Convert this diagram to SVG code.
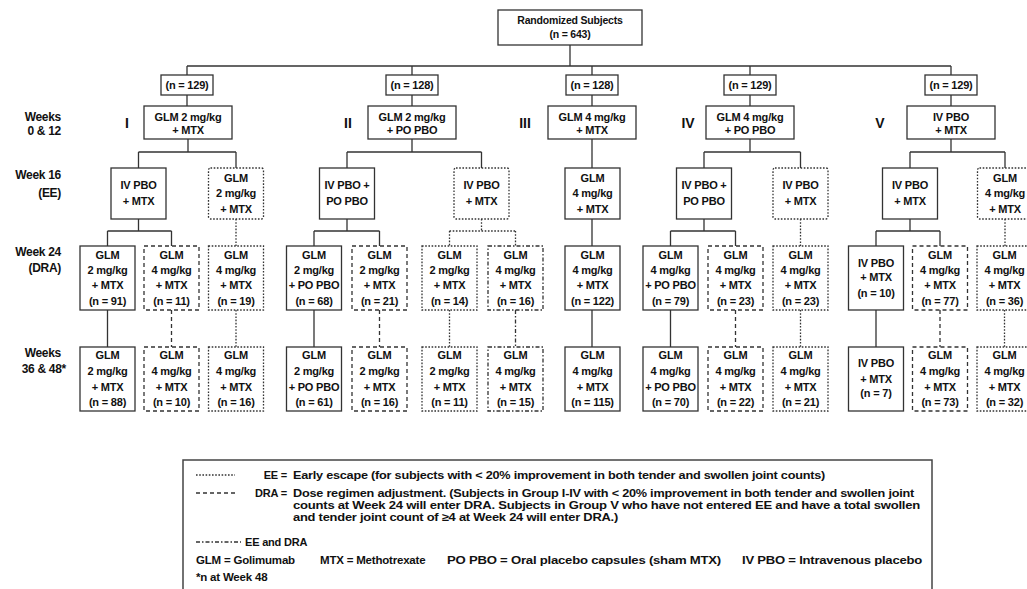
<svg xmlns="http://www.w3.org/2000/svg" width="1027" height="589" viewBox="0 0 1027 589">
<style>
.b{fill:#fff;stroke:#333;stroke-width:1.3}
.dot{stroke-dasharray:1.6 1.6}
.dash{stroke-dasharray:4 3}
.dd{stroke-dasharray:4 2 1.5 2}
.c{fill:none;stroke:#333;stroke-width:1.3}
.t{font-family:"Liberation Sans",Arial,sans-serif;font-weight:bold;font-size:11px;text-anchor:middle;fill:#111;letter-spacing:-0.2px}
.r{font-family:"Liberation Sans",Arial,sans-serif;font-weight:bold;font-size:12px;text-anchor:end;fill:#111;letter-spacing:-0.3px}
.g{font-family:"Liberation Sans",Arial,sans-serif;font-weight:bold;font-size:14px;text-anchor:middle;fill:#111}
.l{font-family:"Liberation Sans",Arial,sans-serif;font-weight:bold;font-size:11px;fill:#111;letter-spacing:-0.2px}
.l2{font-size:11.5px}
</style>
<rect width="1027" height="589" fill="#fff"/>

<g id="connectors">
<path class="c" d="M570 45V66M187 66H951M187 66V75M412 66V75M592 66V75M750 66V75M951 66V75M187 95V106M412 95V106M592 95V106M750 95V106M951 95V106"/>
<path class="c" d="M188 139V152M138.5 152H236M138.5 152V168M236 152V168M412 139V152M347 152H481.5M347 152V168M481.5 152V168M592 139V168M592 219V246M592 310V347M750 139V152M704 152H800.5M704 152V168M800.5 152V168M951 139V152M910 152H1005M910 152V168M1005 152V168"/>
<path class="c" d="M138.5 219V231M107.5 231H171.5M107.5 231V246M171.5 231V246M347 219V231M314 231H379.5M314 231V246M379.5 231V246M704 219V231M670.5 231H735.5M670.5 231V246M735.5 231V246M910 219V231M876 231H940M876 231V246M940 231V246"/>
<path class="c" d="M107.5 310V347M314 310V347M670.5 310V347M876 310V347"/>
<path class="c dot" d="M236 219V246M236 310V347M481.5 219V231M449.5 231H515.5M449.5 231V246M515.5 231V246M449.5 310V347M800.5 219V246M800.5 310V347M1005 219V246M1004.5 310V347"/>
<path class="c dash" d="M171.5 310V347M379.5 310V347M735.5 310V347M940 310V347"/>
<path class="c dd" d="M515.5 310V347"/>
</g>

<g id="labels">
<text class="r" x="61" y="121">Weeks</text><text class="r" x="61" y="135">0 &amp; 12</text>
<text class="r" x="61" y="179">Week 16</text><text class="r" x="61" y="197">(EE)</text>
<text class="r" x="61" y="256">Week 24</text><text class="r" x="61" y="272">(DRA)</text>
<text class="r" x="61" y="357">Weeks</text><text class="r" x="66" y="373">36 &amp; 48*</text>
<text class="g" x="127" y="128">I</text>
<text class="g" x="348" y="128">II</text>
<text class="g" x="525" y="128">III</text>
<text class="g" x="688" y="128">IV</text>
<text class="g" x="880" y="128">V</text>
</g>

<g id="root"><rect class="b" x="498" y="10" width="144" height="35"/><text class="t" x="570" y="24" style="font-size:10.5px">Randomized Subjects</text><text class="t" x="570" y="38" style="font-size:10.5px">(n = 643)</text></g>

<g id="n1"><rect class="b" x="161" y="75" width="52" height="20"/><text class="t" x="187" y="89">(n = 129)</text></g>
<g id="n2"><rect class="b" x="386" y="75" width="52" height="20"/><text class="t" x="412" y="89">(n = 128)</text></g>
<g id="n3"><rect class="b" x="566" y="75" width="52" height="20"/><text class="t" x="592" y="89">(n = 128)</text></g>
<g id="n4"><rect class="b" x="724" y="75" width="52" height="20"/><text class="t" x="750" y="89">(n = 129)</text></g>
<g id="n5"><rect class="b" x="925" y="75" width="52" height="20"/><text class="t" x="951" y="89">(n = 129)</text></g>

<g id="g1"><rect class="b" x="144" y="106" width="88" height="33"/><text class="t" x="188" y="121">GLM 2 mg/kg</text><text class="t" x="188" y="134">+ MTX</text></g>
<g id="g2"><rect class="b" x="368" y="106" width="88" height="33"/><text class="t" x="412" y="121">GLM 2 mg/kg</text><text class="t" x="412" y="134">+ PO PBO</text></g>
<g id="g3"><rect class="b" x="548" y="106" width="88" height="33"/><text class="t" x="592" y="121">GLM 4 mg/kg</text><text class="t" x="592" y="134">+ MTX</text></g>
<g id="g4"><rect class="b" x="706" y="106" width="88" height="33"/><text class="t" x="750" y="121">GLM 4 mg/kg</text><text class="t" x="750" y="134">+ PO PBO</text></g>
<g id="g5"><rect class="b" x="907" y="106" width="88" height="33"/><text class="t" x="951" y="121">IV PBO</text><text class="t" x="951" y="134">+ MTX</text></g>

<!-- Week 16 -->
<g id="w16-1a"><rect class="b" x="111" y="168" width="55" height="51"/><text class="t" x="138.5" y="189">IV PBO</text><text class="t" x="138.5" y="205">+ MTX</text></g>
<g id="w16-1b"><rect class="b dot" x="208.5" y="168" width="55" height="51" rx="2"/><text class="t" x="236" y="182">GLM</text><text class="t" x="236" y="197">2 mg/kg</text><text class="t" x="236" y="213">+ MTX</text></g>
<g id="w16-2a"><rect class="b" x="319.5" y="168" width="55" height="51"/><text class="t" x="347" y="189">IV PBO +</text><text class="t" x="347" y="205">PO PBO</text></g>
<g id="w16-2b"><rect class="b dot" x="454" y="168" width="55" height="51" rx="2"/><text class="t" x="481.5" y="189">IV PBO</text><text class="t" x="481.5" y="205">+ MTX</text></g>
<g id="w16-3"><rect class="b" x="565" y="168" width="55" height="51"/><text class="t" x="592.5" y="182">GLM</text><text class="t" x="592.5" y="197">4 mg/kg</text><text class="t" x="592.5" y="213">+ MTX</text></g>
<g id="w16-4a"><rect class="b" x="676.5" y="168" width="55" height="51"/><text class="t" x="704" y="189">IV PBO +</text><text class="t" x="704" y="205">PO PBO</text></g>
<g id="w16-4b"><rect class="b dot" x="773" y="168" width="55" height="51" rx="2"/><text class="t" x="800.5" y="189">IV PBO</text><text class="t" x="800.5" y="205">+ MTX</text></g>
<g id="w16-5a"><rect class="b" x="882.5" y="168" width="55" height="51"/><text class="t" x="910" y="189">IV PBO</text><text class="t" x="910" y="205">+ MTX</text></g>
<g id="w16-5b"><rect class="b dot" x="977.5" y="168" width="55" height="51" rx="2"/><text class="t" x="1005" y="182">GLM</text><text class="t" x="1005" y="197">4 mg/kg</text><text class="t" x="1005" y="213">+ MTX</text></g>

<!-- Week 24 -->
<g id="w24-1a"><rect class="b" x="80" y="246" width="55" height="64"/><text class="t" x="107.5" y="259">GLM</text><text class="t" x="107.5" y="274">2 mg/kg</text><text class="t" x="107.5" y="289">+ MTX</text><text class="t" x="107.5" y="305">(n = 91)</text></g>
<g id="w24-1b"><rect class="b dash" x="144" y="246" width="55" height="64"/><text class="t" x="171.5" y="259">GLM</text><text class="t" x="171.5" y="274">4 mg/kg</text><text class="t" x="171.5" y="289">+ MTX</text><text class="t" x="171.5" y="305">(n = 11)</text></g>
<g id="w24-1c"><rect class="b dot" x="208.5" y="246" width="55" height="64"/><text class="t" x="236" y="259">GLM</text><text class="t" x="236" y="274">4 mg/kg</text><text class="t" x="236" y="289">+ MTX</text><text class="t" x="236" y="305">(n = 19)</text></g>
<g id="w24-2a"><rect class="b" x="286.5" y="246" width="55" height="64"/><text class="t" x="314" y="259">GLM</text><text class="t" x="314" y="274">2 mg/kg</text><text class="t" x="314" y="289">+ PO PBO</text><text class="t" x="314" y="305">(n = 68)</text></g>
<g id="w24-2b"><rect class="b dash" x="352" y="246" width="55" height="64"/><text class="t" x="379.5" y="259">GLM</text><text class="t" x="379.5" y="274">2 mg/kg</text><text class="t" x="379.5" y="289">+ MTX</text><text class="t" x="379.5" y="305">(n = 21)</text></g>
<g id="w24-2c"><rect class="b dot" x="422" y="246" width="55" height="64"/><text class="t" x="449.5" y="259">GLM</text><text class="t" x="449.5" y="274">2 mg/kg</text><text class="t" x="449.5" y="289">+ MTX</text><text class="t" x="449.5" y="305">(n = 14)</text></g>
<g id="w24-2d"><rect class="b dd" x="488" y="246" width="55" height="64"/><text class="t" x="515.5" y="259">GLM</text><text class="t" x="515.5" y="274">4 mg/kg</text><text class="t" x="515.5" y="289">+ MTX</text><text class="t" x="515.5" y="305">(n = 16)</text></g>
<g id="w24-3"><rect class="b" x="565" y="246" width="55" height="64"/><text class="t" x="592.5" y="259">GLM</text><text class="t" x="592.5" y="274">4 mg/kg</text><text class="t" x="592.5" y="289">+ MTX</text><text class="t" x="592.5" y="305">(n = 122)</text></g>
<g id="w24-4a"><rect class="b" x="643" y="246" width="55" height="64"/><text class="t" x="670.5" y="259">GLM</text><text class="t" x="670.5" y="274">4 mg/kg</text><text class="t" x="670.5" y="289">+ PO PBO</text><text class="t" x="670.5" y="305">(n = 79)</text></g>
<g id="w24-4b"><rect class="b dash" x="708" y="246" width="55" height="64"/><text class="t" x="735.5" y="259">GLM</text><text class="t" x="735.5" y="274">4 mg/kg</text><text class="t" x="735.5" y="289">+ MTX</text><text class="t" x="735.5" y="305">(n = 23)</text></g>
<g id="w24-4c"><rect class="b dot" x="773" y="246" width="55" height="64"/><text class="t" x="800.5" y="259">GLM</text><text class="t" x="800.5" y="274">4 mg/kg</text><text class="t" x="800.5" y="289">+ MTX</text><text class="t" x="800.5" y="305">(n = 23)</text></g>
<g id="w24-5a"><rect class="b" x="848.5" y="246" width="55" height="64"/><text class="t" x="876" y="267">IV PBO</text><text class="t" x="876" y="281">+ MTX</text><text class="t" x="876" y="297">(n = 10)</text></g>
<g id="w24-5b"><rect class="b dash" x="912.5" y="246" width="55" height="64"/><text class="t" x="940" y="259">GLM</text><text class="t" x="940" y="274">4 mg/kg</text><text class="t" x="940" y="289">+ MTX</text><text class="t" x="940" y="305">(n = 77)</text></g>
<g id="w24-5c"><rect class="b dot" x="977" y="246" width="55" height="64"/><text class="t" x="1004.5" y="259">GLM</text><text class="t" x="1004.5" y="274">4 mg/kg</text><text class="t" x="1004.5" y="289">+ MTX</text><text class="t" x="1004.5" y="305">(n = 36)</text></g>

<!-- Weeks 36 & 48 -->
<g id="w36-1a"><rect class="b" x="80" y="347" width="55" height="64"/><text class="t" x="107.5" y="359">GLM</text><text class="t" x="107.5" y="375">2 mg/kg</text><text class="t" x="107.5" y="391">+ MTX</text><text class="t" x="107.5" y="406">(n = 88)</text></g>
<g id="w36-1b"><rect class="b dash" x="144" y="347" width="55" height="64"/><text class="t" x="171.5" y="359">GLM</text><text class="t" x="171.5" y="375">4 mg/kg</text><text class="t" x="171.5" y="391">+ MTX</text><text class="t" x="171.5" y="406">(n = 10)</text></g>
<g id="w36-1c"><rect class="b dot" x="208.5" y="347" width="55" height="64"/><text class="t" x="236" y="359">GLM</text><text class="t" x="236" y="375">4 mg/kg</text><text class="t" x="236" y="391">+ MTX</text><text class="t" x="236" y="406">(n = 16)</text></g>
<g id="w36-2a"><rect class="b" x="286.5" y="347" width="55" height="64"/><text class="t" x="314" y="359">GLM</text><text class="t" x="314" y="375">2 mg/kg</text><text class="t" x="314" y="391">+ PO PBO</text><text class="t" x="314" y="406">(n = 61)</text></g>
<g id="w36-2b"><rect class="b dash" x="352" y="347" width="55" height="64"/><text class="t" x="379.5" y="359">GLM</text><text class="t" x="379.5" y="375">2 mg/kg</text><text class="t" x="379.5" y="391">+ MTX</text><text class="t" x="379.5" y="406">(n = 16)</text></g>
<g id="w36-2c"><rect class="b dot" x="422" y="347" width="55" height="64"/><text class="t" x="449.5" y="359">GLM</text><text class="t" x="449.5" y="375">2 mg/kg</text><text class="t" x="449.5" y="391">+ MTX</text><text class="t" x="449.5" y="406">(n = 11)</text></g>
<g id="w36-2d"><rect class="b dd" x="488" y="347" width="55" height="64"/><text class="t" x="515.5" y="359">GLM</text><text class="t" x="515.5" y="375">4 mg/kg</text><text class="t" x="515.5" y="391">+ MTX</text><text class="t" x="515.5" y="406">(n = 15)</text></g>
<g id="w36-3"><rect class="b" x="565" y="347" width="55" height="64"/><text class="t" x="592.5" y="359">GLM</text><text class="t" x="592.5" y="375">4 mg/kg</text><text class="t" x="592.5" y="391">+ MTX</text><text class="t" x="592.5" y="406">(n = 115)</text></g>
<g id="w36-4a"><rect class="b" x="643" y="347" width="55" height="64"/><text class="t" x="670.5" y="359">GLM</text><text class="t" x="670.5" y="375">4 mg/kg</text><text class="t" x="670.5" y="391">+ PO PBO</text><text class="t" x="670.5" y="406">(n = 70)</text></g>
<g id="w36-4b"><rect class="b dash" x="708" y="347" width="55" height="64"/><text class="t" x="735.5" y="359">GLM</text><text class="t" x="735.5" y="375">4 mg/kg</text><text class="t" x="735.5" y="391">+ MTX</text><text class="t" x="735.5" y="406">(n = 22)</text></g>
<g id="w36-4c"><rect class="b dot" x="773" y="347" width="55" height="64"/><text class="t" x="800.5" y="359">GLM</text><text class="t" x="800.5" y="375">4 mg/kg</text><text class="t" x="800.5" y="391">+ MTX</text><text class="t" x="800.5" y="406">(n = 21)</text></g>
<g id="w36-5a"><rect class="b" x="848.5" y="347" width="55" height="64"/><text class="t" x="876" y="367">IV PBO</text><text class="t" x="876" y="383">+ MTX</text><text class="t" x="876" y="397">(n = 7)</text></g>
<g id="w36-5b"><rect class="b dash" x="912.5" y="347" width="55" height="64"/><text class="t" x="940" y="359">GLM</text><text class="t" x="940" y="375">4 mg/kg</text><text class="t" x="940" y="391">+ MTX</text><text class="t" x="940" y="406">(n = 73)</text></g>
<g id="w36-5c"><rect class="b dot" x="977" y="347" width="55" height="64"/><text class="t" x="1004.5" y="359">GLM</text><text class="t" x="1004.5" y="375">4 mg/kg</text><text class="t" x="1004.5" y="391">+ MTX</text><text class="t" x="1004.5" y="406">(n = 32)</text></g>

<!-- Legend -->
<g id="legend">
<rect x="183" y="460" width="749" height="140" fill="#fff" stroke="#444" stroke-width="1.5"/>
<path class="c dot" d="M196 475H235"/>
<path class="c dash" d="M196 493H235"/>
<path class="c dd" d="M196 542H241"/>
<text class="l" x="287" y="479" style="text-anchor:end">EE =</text>
<text class="l" x="293" y="479" textLength="532" lengthAdjust="spacingAndGlyphs">Early escape (for subjects with &lt; 20% improvement in both tender and swollen joint counts)</text>
<text class="l" x="287" y="497" style="text-anchor:end">DRA =</text>
<text class="l" x="293" y="497" textLength="621" lengthAdjust="spacingAndGlyphs">Dose regimen adjustment. (Subjects in Group I-IV with &lt; 20% improvement in both tender and swollen joint</text>
<text class="l" x="293" y="509" textLength="627" lengthAdjust="spacingAndGlyphs">counts at Week 24 will enter DRA. Subjects in Group V who have not entered EE and have a total swollen</text>
<text class="l" x="293" y="521" textLength="325" lengthAdjust="spacingAndGlyphs">and tender joint count of ≥4 at Week 24 will enter DRA.)</text>
<text class="l" x="245" y="546">EE and DRA</text>
<text class="l l2" x="196" y="564">GLM = Golimumab</text>
<text class="l l2" x="320" y="564">MTX = Methotrexate</text>
<text class="l l2" x="447" y="564" textLength="274" lengthAdjust="spacingAndGlyphs">PO PBO = Oral placebo capsules (sham MTX)</text>
<text class="l l2" x="742" y="564" textLength="180" lengthAdjust="spacingAndGlyphs">IV PBO = Intravenous placebo</text>
<text class="l l2" x="196" y="581">*n at Week 48</text>
</g>
</svg>
